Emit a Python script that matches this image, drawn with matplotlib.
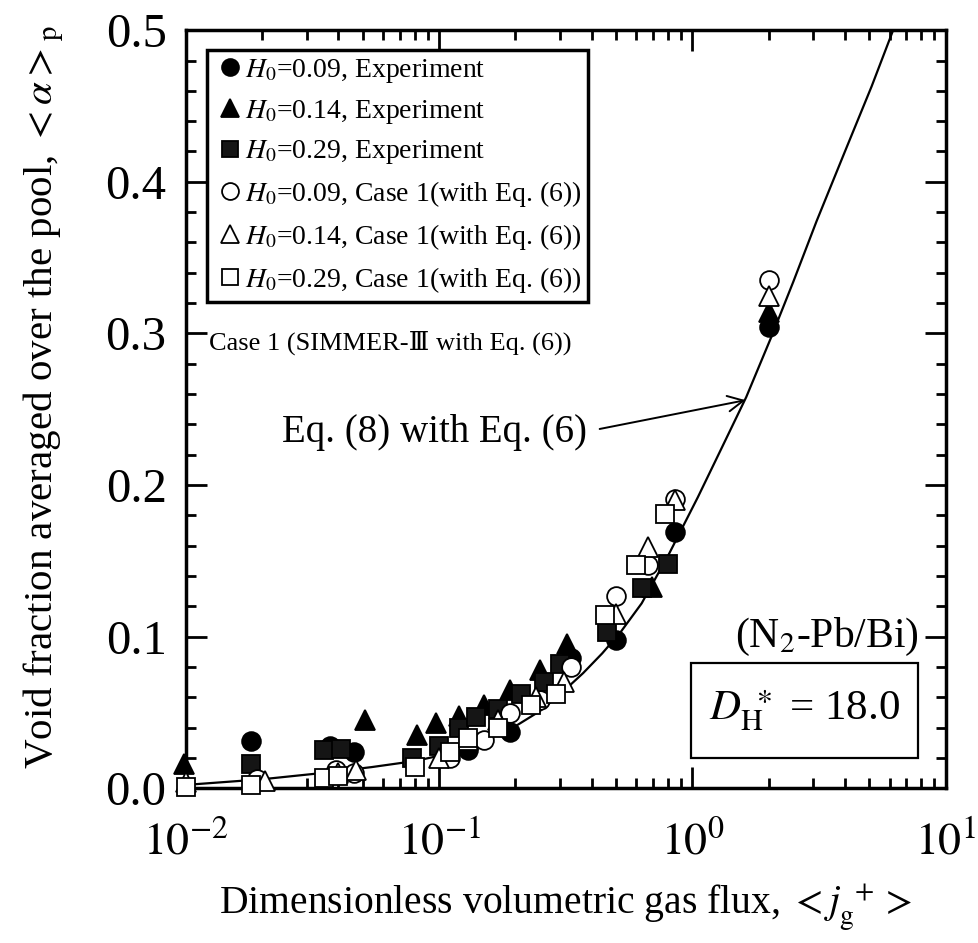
import matplotlib
matplotlib.use("Agg")
import matplotlib.pyplot as plt
from matplotlib.patches import Rectangle
import numpy as np

plt.rcParams['font.family'] = ['Liberation Serif', 'DejaVu Serif']
plt.rcParams['mathtext.fontset'] = 'stix'

# Experiment data
exp09_x = [0.018, 0.037, 0.046, 0.13, 0.19, 0.33, 0.50, 0.85, 2.0]
exp09_y = [0.031, 0.028, 0.024, 0.025, 0.037, 0.086, 0.098, 0.169, 0.304]

exp14_x = [0.0098, 0.051, 0.082, 0.097, 0.12, 0.15, 0.19, 0.25, 0.32, 0.47, 0.69, 2.0]
exp14_y = [0.016, 0.045, 0.035, 0.043, 0.048, 0.055, 0.065, 0.078, 0.095, 0.105, 0.133, 0.314]

exp29_x = [0.018, 0.035, 0.041, 0.078, 0.10, 0.12, 0.14, 0.17, 0.21, 0.26, 0.30, 0.46, 0.63, 0.80]
exp29_y = [0.016, 0.025, 0.026, 0.020, 0.028, 0.040, 0.047, 0.052, 0.062, 0.070, 0.082, 0.103, 0.132, 0.148]

# Case 1 (SIMMER-III with Eq. (6))
c09_x = [0.019, 0.039, 0.046, 0.11, 0.15, 0.19, 0.25, 0.33, 0.50, 0.67, 0.85, 2.0]
c09_y = [0.006, 0.012, 0.010, 0.020, 0.032, 0.050, 0.058, 0.080, 0.127, 0.147, 0.191, 0.335]

c14_x = [0.0100, 0.0205, 0.040, 0.047, 0.10, 0.13, 0.17, 0.24, 0.31, 0.50, 0.67, 0.85, 2.0]
c14_y = [0.004, 0.005, 0.010, 0.012, 0.020, 0.032, 0.045, 0.060, 0.070, 0.115, 0.159, 0.190, 0.325]

c29_x = [0.0100, 0.018, 0.035, 0.040, 0.080, 0.11, 0.13, 0.17, 0.23, 0.29, 0.45, 0.60, 0.78]
c29_y = [0.001, 0.002, 0.007, 0.008, 0.014, 0.024, 0.033, 0.040, 0.055, 0.062, 0.114, 0.147, 0.181]

# Eq. (8) with Eq. (6)
eq_x = [0.0095, 0.02, 0.034, 0.054, 0.08, 0.11, 0.15, 0.2, 0.25, 0.3, 0.37, 0.44, 0.52,
        0.63, 0.81, 1.05, 1.3, 1.63, 2.04, 2.5, 3.09, 4.0, 5.1, 6.2]
eq_y = [0.002, 0.006, 0.010, 0.014, 0.018, 0.023, 0.031, 0.041, 0.051, 0.062, 0.076, 0.089, 0.103,
        0.122, 0.155, 0.192, 0.224, 0.258, 0.297, 0.334, 0.374, 0.420, 0.463, 0.500]

fig = plt.figure(figsize=(9.79, 9.43), dpi=100)
ax = fig.add_axes([0.190, 0.164, 0.776, 0.804])

ax.plot(eq_x, eq_y, color='black', lw=1.6, zorder=2)

ms = 13.5
mew = 1.3
kw = dict(mec='black', mew=mew, clip_on=False, ls='none')
ax.plot(exp09_x, exp09_y, 'o', ms=ms, mfc='black', zorder=3,
        label=r'$\mathit{H}_0$=0.09, Experiment', **kw)
ax.plot(exp14_x, exp14_y, '^', ms=ms + 1, mfc='black', zorder=3,
        label=r'$\mathit{H}_0$=0.14, Experiment', **kw)
ax.plot(exp29_x, exp29_y, 's', ms=ms - 0.5, mfc='#151515', zorder=3,
        label=r'$\mathit{H}_0$=0.29, Experiment', **kw)
ax.plot(c09_x, c09_y, 'o', ms=ms, mfc='white', zorder=4,
        label=r'$\mathit{H}_0$=0.09, Case 1(with Eq. (6))', **kw)
ax.plot(c14_x, c14_y, '^', ms=ms + 1, mfc='white', zorder=4,
        label=r'$\mathit{H}_0$=0.14, Case 1(with Eq. (6))', **kw)
ax.plot(c29_x, c29_y, 's', ms=ms - 0.5, mfc='white', zorder=4,
        label=r'$\mathit{H}_0$=0.29, Case 1(with Eq. (6))', **kw)

ax.set_xscale('log')
ax.set_xlim(1e-2, 1e1)
ax.set_ylim(0, 0.5)
ax.set_yticks([0.0, 0.1, 0.2, 0.3, 0.4, 0.5])
ax.set_yticklabels(['0.0', '0.1', '0.2', '0.3', '0.4', '0.5'])
ax.set_yticks(np.arange(0, 0.5001, 0.02), minor=True)
ax.set_xticks([1e-2, 1e-1, 1e0, 1e1])
ax.set_xticklabels([r'$10^{-2}$', r'$10^{-1}$', r'$10^{0}$', r'$10^{1}$'])

ax.tick_params(which='both', direction='in', top=True, right=True, width=2)
ax.tick_params(which='major', length=15)
ax.tick_params(which='minor', length=7)
ax.tick_params(axis='y', which='major', labelsize=35, pad=14)
ax.tick_params(axis='x', which='major', labelsize=33, pad=24)
for s in ax.spines.values():
    s.set_linewidth(2.5)

ax.set_xlabel(r'Dimensionless volumetric gas flux, $<j_{\rm g}^{\ +}>$', fontsize=28.5, labelpad=12)
ax.set_ylabel(r'Void fraction averaged over the pool, $<\alpha>_{\rm p}$', fontsize=29.5)
ax.yaxis.set_label_coords(-0.158, 0.516)

leg = ax.legend(loc='upper left', bbox_to_anchor=(0.028, 0.974), fontsize=20,
                handletextpad=0.0, handlelength=1.1, labelspacing=0.46,
                borderpad=0.25, fancybox=False, framealpha=1, edgecolor='black',
                numpoints=1, borderaxespad=0, markerscale=0.9)
leg.get_frame().set_linewidth(2.5)

ax.text(0.0123, 0.294, 'Case 1 (SIMMER-\u2162 with Eq. (6))', fontsize=19, va='center', ha='left')
ax.text(0.0956, 0.235, 'Eq. (8) with Eq. (6)', fontsize=28, ha='center', va='center')
ax.annotate('', xy=(1.62, 0.256), xytext=(0.43, 0.237),
            arrowprops=dict(arrowstyle='->', color='black', lw=1.4, mutation_scale=28,
                            shrinkA=0, shrinkB=0))
ax.text(3.39, 0.100, r'(N$_2$-Pb/Bi)', fontsize=30, ha='center', va='center')
ax.add_patch(Rectangle((0.6645, 0.0396), 0.2985, 0.1254, transform=ax.transAxes,
                       fill=False, ec='black', lw=1.6, zorder=5))
ax.text(2.76, 0.051, r'$\mathit{D}_{\rm H}^{\ \ast}$ = 18.0', fontsize=31, ha='center', va='center')

fig.savefig('out.png', dpi=100)
